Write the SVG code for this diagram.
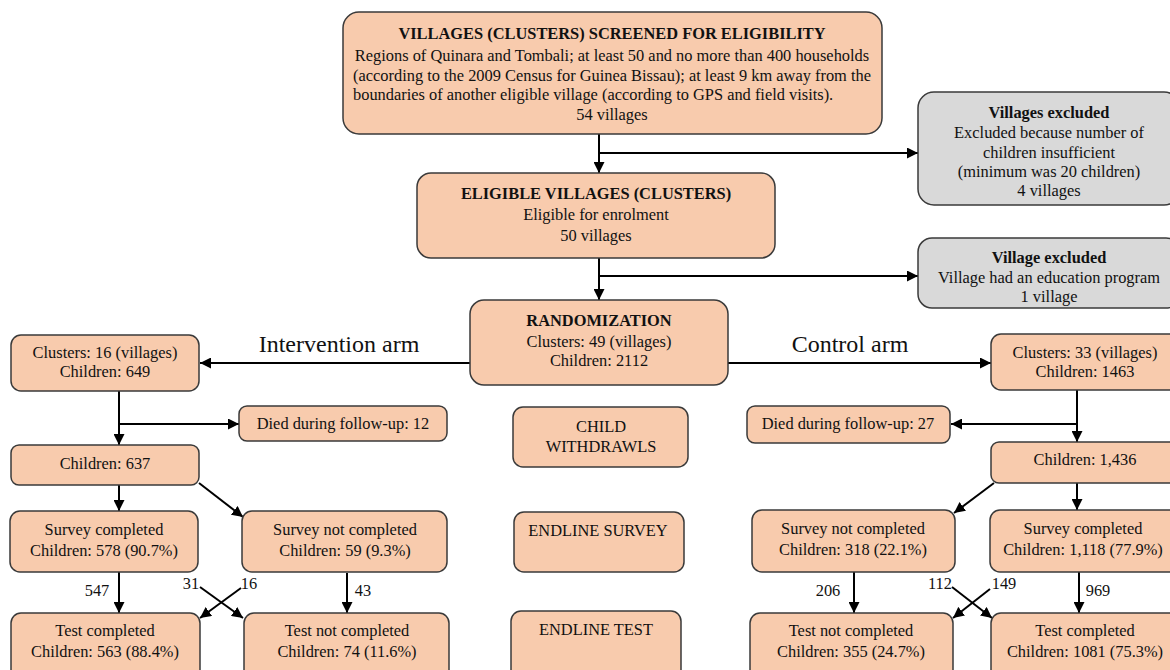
<svg xmlns="http://www.w3.org/2000/svg" width="1170" height="670" viewBox="0 0 1170 670" font-family="'Liberation Serif', 'Times New Roman', serif">
<defs>
<marker id="ah" viewBox="0 0 10 10" refX="10" refY="5" markerWidth="11" markerHeight="11" markerUnits="userSpaceOnUse" orient="auto">
<path d="M0,0 L10,5 L0,10 z" fill="#000"/>
</marker>
<style>
.b{fill:#f8cbad;stroke:#3a3a3a;stroke-width:1.5}
.g{fill:#d9d9d9;stroke:#3a3a3a;stroke-width:1.5}
text{font-family:'Liberation Serif','Times New Roman',serif;font-size:16.4px;fill:#111;text-anchor:middle}
.t{font-weight:bold}
.arm{font-size:24px}
.c{fill:none;stroke:#000;stroke-width:2}
.a{fill:none;stroke:#000;stroke-width:2;marker-end:url(#ah)}
</style>
</defs>
<rect width="1170" height="670" fill="#fff"/>

<g id="connectors">
<line class="c" x1="599" y1="134" x2="599" y2="153"/>
<line class="a" x1="599" y1="153" x2="599" y2="173"/>
<line class="a" x1="599" y1="153" x2="918" y2="153"/>
<line class="c" x1="599" y1="258" x2="599" y2="276"/>
<line class="a" x1="599" y1="276" x2="599" y2="300"/>
<line class="a" x1="599" y1="276" x2="918" y2="276"/>
<line class="a" x1="470" y1="363" x2="200" y2="363"/>
<line class="a" x1="728" y1="363" x2="991" y2="363"/>
<line class="c" x1="119" y1="391" x2="119" y2="424"/>
<line class="a" x1="119" y1="424" x2="119" y2="445"/>
<line class="a" x1="119" y1="424" x2="239" y2="424"/>
<line class="a" x1="119" y1="485" x2="119" y2="511"/>
<line class="a" x1="199" y1="483" x2="243" y2="517"/>
<line class="a" x1="119" y1="572" x2="119" y2="613"/>
<line class="a" x1="200" y1="587" x2="243" y2="618"/>
<line class="a" x1="241" y1="588" x2="200" y2="618"/>
<line class="a" x1="347" y1="573" x2="347" y2="613"/>
<line class="c" x1="1077" y1="390" x2="1077" y2="424"/>
<line class="a" x1="1077" y1="424" x2="1077" y2="442"/>
<line class="a" x1="1077" y1="424" x2="951" y2="424"/>
<line class="a" x1="1077" y1="483" x2="1077" y2="510"/>
<line class="a" x1="994" y1="483" x2="954" y2="513"/>
<line class="a" x1="854" y1="572" x2="854" y2="613"/>
<line class="a" x1="952" y1="587" x2="992" y2="618"/>
<line class="a" x1="990" y1="589" x2="953" y2="618"/>
<line class="a" x1="1079" y1="572" x2="1079" y2="613"/>
<text x="339" y="352" class="arm">Intervention arm</text>
<text x="850" y="352" class="arm">Control arm</text>
<text x="97" y="596">547</text>
<text x="191" y="589">31</text>
<text x="249" y="589">16</text>
<text x="363" y="596">43</text>
<text x="828" y="596">206</text>
<text x="940" y="589">112</text>
<text x="1004" y="589">149</text>
<text x="1098" y="596">969</text>
</g>

<g id="screened">
<rect class="b" x="343" y="12" width="539" height="122" rx="16"/>
<text x="612" y="39" class="t">VILLAGES (CLUSTERS) SCREENED FOR ELIGIBILITY</text>
<text x="612" y="61">Regions of Quinara and Tombali; at least 50 and no more than 400 households</text>
<text x="612" y="81">(according to the 2009 Census for Guinea Bissau); at least 9 km away from the</text>
<text x="353" y="100" style="text-anchor:start">boundaries of another eligible village (according to GPS and field visits).</text>
<text x="612" y="120">54 villages</text>
</g>

<g id="excluded1">
<rect class="g" x="918" y="92" width="262" height="113" rx="16"/>
<text x="1049" y="118" class="t">Villages excluded</text>
<text x="1049" y="138">Excluded because number of</text>
<text x="1049" y="158">children insufficient</text>
<text x="1049" y="177">(minimum was 20 children)</text>
<text x="1049" y="196">4 villages</text>
</g>

<g id="eligible">
<rect class="b" x="417" y="173" width="358" height="85" rx="14"/>
<text x="596" y="199" class="t">ELIGIBLE VILLAGES (CLUSTERS)</text>
<text x="596" y="220">Eligible for enrolment</text>
<text x="596" y="241">50 villages</text>
</g>

<g id="excluded2">
<rect class="g" x="918" y="238" width="262" height="70" rx="14"/>
<text x="1049" y="263" class="t">Village excluded</text>
<text x="1049" y="283">Village had an education program</text>
<text x="1049" y="302">1 village</text>
</g>

<g id="randomization">
<rect class="b" x="470" y="300" width="258" height="85" rx="14"/>
<text x="599" y="326" class="t">RANDOMIZATION</text>
<text x="599" y="347">Clusters: 49 (villages)</text>
<text x="599" y="366">Children: 2112</text>
</g>

<g id="int-clusters">
<rect class="b" x="11" y="335" width="188" height="56" rx="10"/>
<text x="105" y="358">Clusters: 16 (villages)</text>
<text x="105" y="377">Children: 649</text>
</g>

<g id="int-died">
<rect class="b" x="239" y="406" width="208" height="35" rx="8"/>
<text x="343" y="429">Died during follow-up: 12</text>
</g>

<g id="int-children">
<rect class="b" x="11" y="445" width="188" height="40" rx="8"/>
<text x="105" y="469">Children: 637</text>
</g>

<g id="int-survey-done">
<rect class="b" x="10" y="511" width="188" height="61" rx="10"/>
<text x="104" y="535">Survey completed</text>
<text x="104" y="556">Children: 578 (90.7%)</text>
</g>

<g id="int-survey-not">
<rect class="b" x="242" y="511" width="205" height="61" rx="10"/>
<text x="345" y="535">Survey not completed</text>
<text x="345" y="556">Children: 59 (9.3%)</text>
</g>

<g id="int-test-done">
<rect class="b" x="11" y="613" width="189" height="70" rx="10"/>
<text x="105" y="636">Test completed</text>
<text x="105" y="657">Children: 563 (88.4%)</text>
</g>

<g id="int-test-not">
<rect class="b" x="244" y="613" width="205" height="70" rx="10"/>
<text x="347" y="636">Test not completed</text>
<text x="347" y="657">Children: 74 (11.6%)</text>
</g>

<g id="withdrawls">
<rect class="b" x="513" y="407" width="175" height="60" rx="10"/>
<text x="601" y="432">CHILD</text>
<text x="601" y="452">WITHDRAWLS</text>
</g>

<g id="endline-survey">
<rect class="b" x="514" y="512" width="170" height="60" rx="10"/>
<text x="598" y="536">ENDLINE SURVEY</text>
</g>

<g id="endline-test">
<rect class="b" x="511" y="611" width="170" height="70" rx="10"/>
<text x="596" y="635">ENDLINE TEST</text>
</g>

<g id="ctl-clusters">
<rect class="b" x="991" y="334" width="189" height="56" rx="10"/>
<text x="1085" y="358">Clusters: 33 (villages)</text>
<text x="1085" y="377">Children: 1463</text>
</g>

<g id="ctl-died">
<rect class="b" x="747" y="406" width="203" height="37" rx="8"/>
<text x="848" y="429">Died during follow-up: 27</text>
</g>

<g id="ctl-children">
<rect class="b" x="991" y="442" width="189" height="41" rx="8"/>
<text x="1085" y="465">Children: 1,436</text>
</g>

<g id="ctl-survey-not">
<rect class="b" x="752" y="510" width="203" height="62" rx="10"/>
<text x="853" y="534">Survey not completed</text>
<text x="853" y="555">Children: 318 (22.1%)</text>
</g>

<g id="ctl-survey-done">
<rect class="b" x="990" y="510" width="190" height="62" rx="10"/>
<text x="1083" y="534">Survey completed</text>
<text x="1083" y="555">Children: 1,118 (77.9%)</text>
</g>

<g id="ctl-test-not">
<rect class="b" x="750" y="613" width="203" height="70" rx="10"/>
<text x="851" y="636">Test not completed</text>
<text x="851" y="657">Children: 355 (24.7%)</text>
</g>

<g id="ctl-test-done">
<rect class="b" x="991" y="613" width="189" height="70" rx="10"/>
<text x="1085" y="636">Test completed</text>
<text x="1085" y="657">Children: 1081 (75.3%)</text>
</g>
</svg>
